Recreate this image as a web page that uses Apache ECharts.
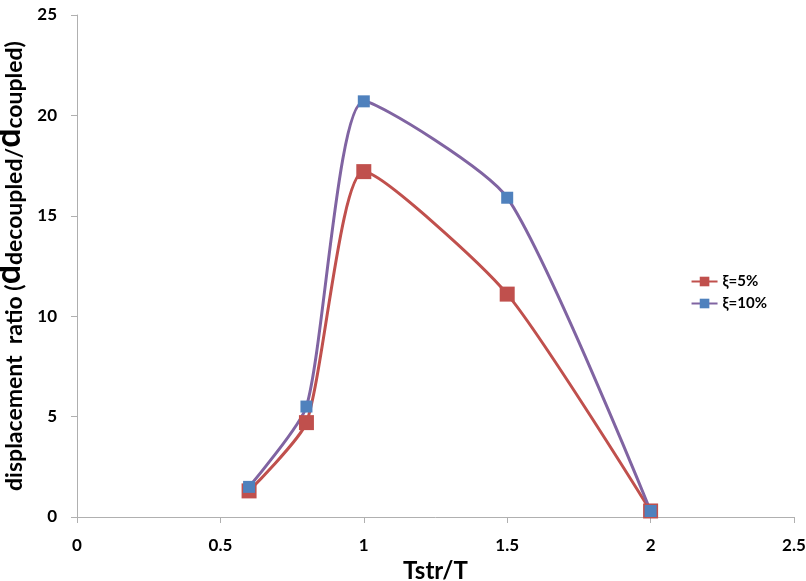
<!DOCTYPE html>
<html><head><meta charset="utf-8">
<script src="https://cdn.jsdelivr.net/npm/echarts@6/dist/echarts.min.js"></script>
<style>html,body{margin:0;padding:0;background:#fff}#c{width:806px;height:581px}</style>
</head><body><div id="c"></div>
<script>
const xValues = [0.6, 0.8, 1.0, 1.5, 2.0];
const xi5 = [1.3, 4.7, 17.2, 11.1, 0.3];
const xi10 = [1.5, 5.5, 20.7, 15.9, 0.3];
const seriesNames = ['ξ=5%', 'ξ=10%'];

const chart = echarts.init(document.getElementById('c'));
const font = 'Lato, "Open Sans", sans-serif';
chart.setOption({
  animation: false,
  textStyle: { fontFamily: font },
  grid: { left: 77, right: 12, top: 15, bottom: 64, containLabel: false, outerBoundsMode: 'none' },
  legend: {
    orient: 'vertical', right: 34, top: 269, itemGap: 7,
    itemWidth: 26, itemHeight: 12,
    textStyle: { fontFamily: font, fontWeight: 'bold', fontSize: 15, color: '#000' },
    data: seriesNames
  },
  xAxis: {
    type: 'value', min: 0, max: 2.5, interval: 0.5,
    axisLine: { lineStyle: { color: '#b0b0b0', width: 1 } },
    axisTick: { show: true, length: 6, lineStyle: { color: '#b0b0b0' } },
    splitLine: { show: false },
    axisLabel: { color: '#000', fontWeight: 'bold', fontSize: 17, margin: 20 },
    name: 'Tstr/T', nameLocation: 'middle', nameGap: 40,
    nameTextStyle: { color: '#000', fontWeight: 'bold', fontSize: 24, fontFamily: font }
  },
  yAxis: {
    type: 'value', min: 0, max: 25, interval: 5,
    axisLine: { show: true, lineStyle: { color: '#b0b0b0', width: 1 } },
    axisTick: { show: true, length: 6, lineStyle: { color: '#b0b0b0' } },
    splitLine: { show: false },
    axisLabel: { color: '#000', fontWeight: 'bold', fontSize: 17, margin: 20 },
    name: '{a|displacement  ratio (}{b|d}{c|decoupled}{a|/}{b|d}{c|coupled}{a|)}',
    nameLocation: 'middle', nameGap: 38, nameRotate: 90,
    nameTextStyle: {
      color: '#000',
      rich: {
        a: { fontSize: 23, fontWeight: 'bold', fontFamily: font, color: '#000', verticalAlign: 'bottom' },
        b: { fontSize: 34, fontWeight: 'bold', fontFamily: font, color: '#000', verticalAlign: 'bottom' },
        c: { fontSize: 23, fontWeight: 'bold', fontFamily: font, color: '#000', verticalAlign: 'bottom' }
      }
    }
  },
  series: [
    {
      name: seriesNames[0], type: 'line', smooth: 0.2,
      data: xValues.map((x, i) => [x, xi5[i]]),
      symbol: 'rect', symbolSize: 15,
      itemStyle: { color: '#C0504D' },
      lineStyle: { color: '#C0504D', width: 3 }
    },
    {
      name: seriesNames[1], type: 'line', smooth: 0.2,
      data: xValues.map((x, i) => [x, xi10[i]]),
      symbol: 'rect', symbolSize: 12,
      itemStyle: { color: '#4F81BD' },
      lineStyle: { color: '#8064A2', width: 3 }
    }
  ]
});
</script></body></html>
